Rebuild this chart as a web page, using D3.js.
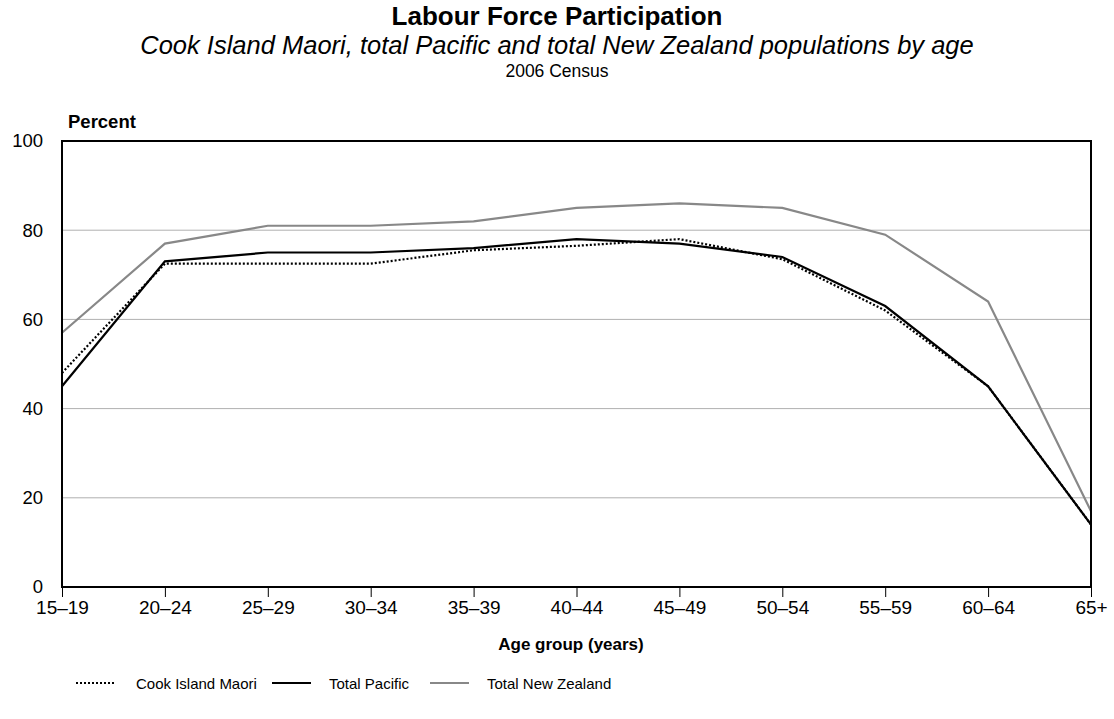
<!DOCTYPE html>
<html><head><meta charset="utf-8">
<script src="https://cdn.jsdelivr.net/npm/d3@7"></script>
<style>body{margin:0;background:#fff;font-family:Arial,"Liberation Sans",sans-serif;}</style>
</head><body>
<svg id="c" width="1114" height="719"></svg>
<script>
const categories = ["15–19","20–24","25–29","30–34","35–39","40–44","45–49","50–54","55–59","60–64","65+"];
const cookIslandMaori = [48,72.5,72.5,72.5,75.5,76.5,78,73.5,62,45,14];
const totalPacific = [45,73,75,75,76,78,77,74,63,45,14];
const totalNZ = [57,77,81,81,82,85,86,85,79,64,17];
const yTicks = [0,20,40,60,80,100];

const svg = d3.select("#c");
const L=62,R=1091,T=141,B=587;
const x = d3.scalePoint().domain(categories).range([L,R]);
const y = d3.scaleLinear().domain([0,100]).range([B,T]);
const font = "Arial, 'Liberation Sans', sans-serif";

// titles
svg.append("text").attr("x",557).attr("y",25).attr("text-anchor","middle").attr("font-family",font).attr("font-size",26).attr("font-weight","bold").text("Labour Force Participation");
svg.append("text").attr("x",557).attr("y",54).attr("text-anchor","middle").attr("font-family",font).attr("font-size",25.5).attr("font-style","italic").text("Cook Island Maori, total Pacific and total New Zealand populations by age");
svg.append("text").attr("x",557).attr("y",77).attr("text-anchor","middle").attr("font-family",font).attr("font-size",17.5).text("2006 Census");
svg.append("text").attr("x",68).attr("y",128).attr("font-family",font).attr("font-size",18.5).attr("font-weight","bold").text("Percent");

// grid
svg.append("g").selectAll("line").data(yTicks.filter(d=>d>0&&d<100)).join("line")
  .attr("x1",L).attr("x2",R).attr("y1",d=>y(d)).attr("y2",d=>y(d)).attr("stroke","#b0b0b0").attr("stroke-width",1);

// y labels
const ya = svg.append("g").attr("transform",`translate(${L},0)`).call(d3.axisLeft(y).tickValues(yTicks).tickSize(0).tickPadding(19));
ya.select(".domain").remove();
ya.selectAll("text").attr("font-family",font).attr("font-size",18.5).attr("fill","#000");

// x axis
const xa = svg.append("g").attr("transform",`translate(0,${B})`).call(d3.axisBottom(x).tickSize(10).tickPadding(4));
xa.select(".domain").remove();
xa.selectAll("line").attr("stroke","#000").attr("stroke-width",1);
xa.selectAll("text").attr("font-family",font).attr("font-size",19).attr("fill","#000");

svg.append("text").attr("x",571).attr("y",650).attr("text-anchor","middle").attr("font-family",font).attr("font-size",17).attr("font-weight","bold").text("Age group (years)");

// lines
const line = d3.line().x((d,i)=>x(categories[i])).y(d=>y(d));
const series = [
  {name:"Total New Zealand", data:totalNZ, color:"#888888", dash:null, w:2.2},
  {name:"Total Pacific", data:totalPacific, color:"#000", dash:null, w:2.2},
  {name:"Cook Island Maori", data:cookIslandMaori, color:"#000", dash:"2,2", w:2.2},
];
series.forEach(s=>{
  svg.append("path").attr("d",line(s.data)).attr("fill","none").attr("stroke",s.color).attr("stroke-width",s.w).attr("stroke-dasharray",s.dash);
});

// frame
svg.append("rect").attr("x",L).attr("y",T).attr("width",R-L).attr("height",B-T).attr("fill","none").attr("stroke","#000").attr("stroke-width",2);

// legend
const leg = [
  {name:"Cook Island Maori", color:"#000", dash:"2,2", lx:76, tx:136},
  {name:"Total Pacific", color:"#000", dash:null, lx:272, tx:329},
  {name:"Total New Zealand", color:"#888888", dash:null, lx:430, tx:487},
];
leg.forEach(l=>{
  svg.append("line").attr("x1",l.lx).attr("x2",l.lx+39).attr("y1",683).attr("y2",683).attr("stroke",l.color).attr("stroke-width",2.2).attr("stroke-dasharray",l.dash);
  svg.append("text").attr("x",l.tx).attr("y",688.5).attr("font-family",font).attr("font-size",15).text(l.name);
});
</script>
</body></html>
